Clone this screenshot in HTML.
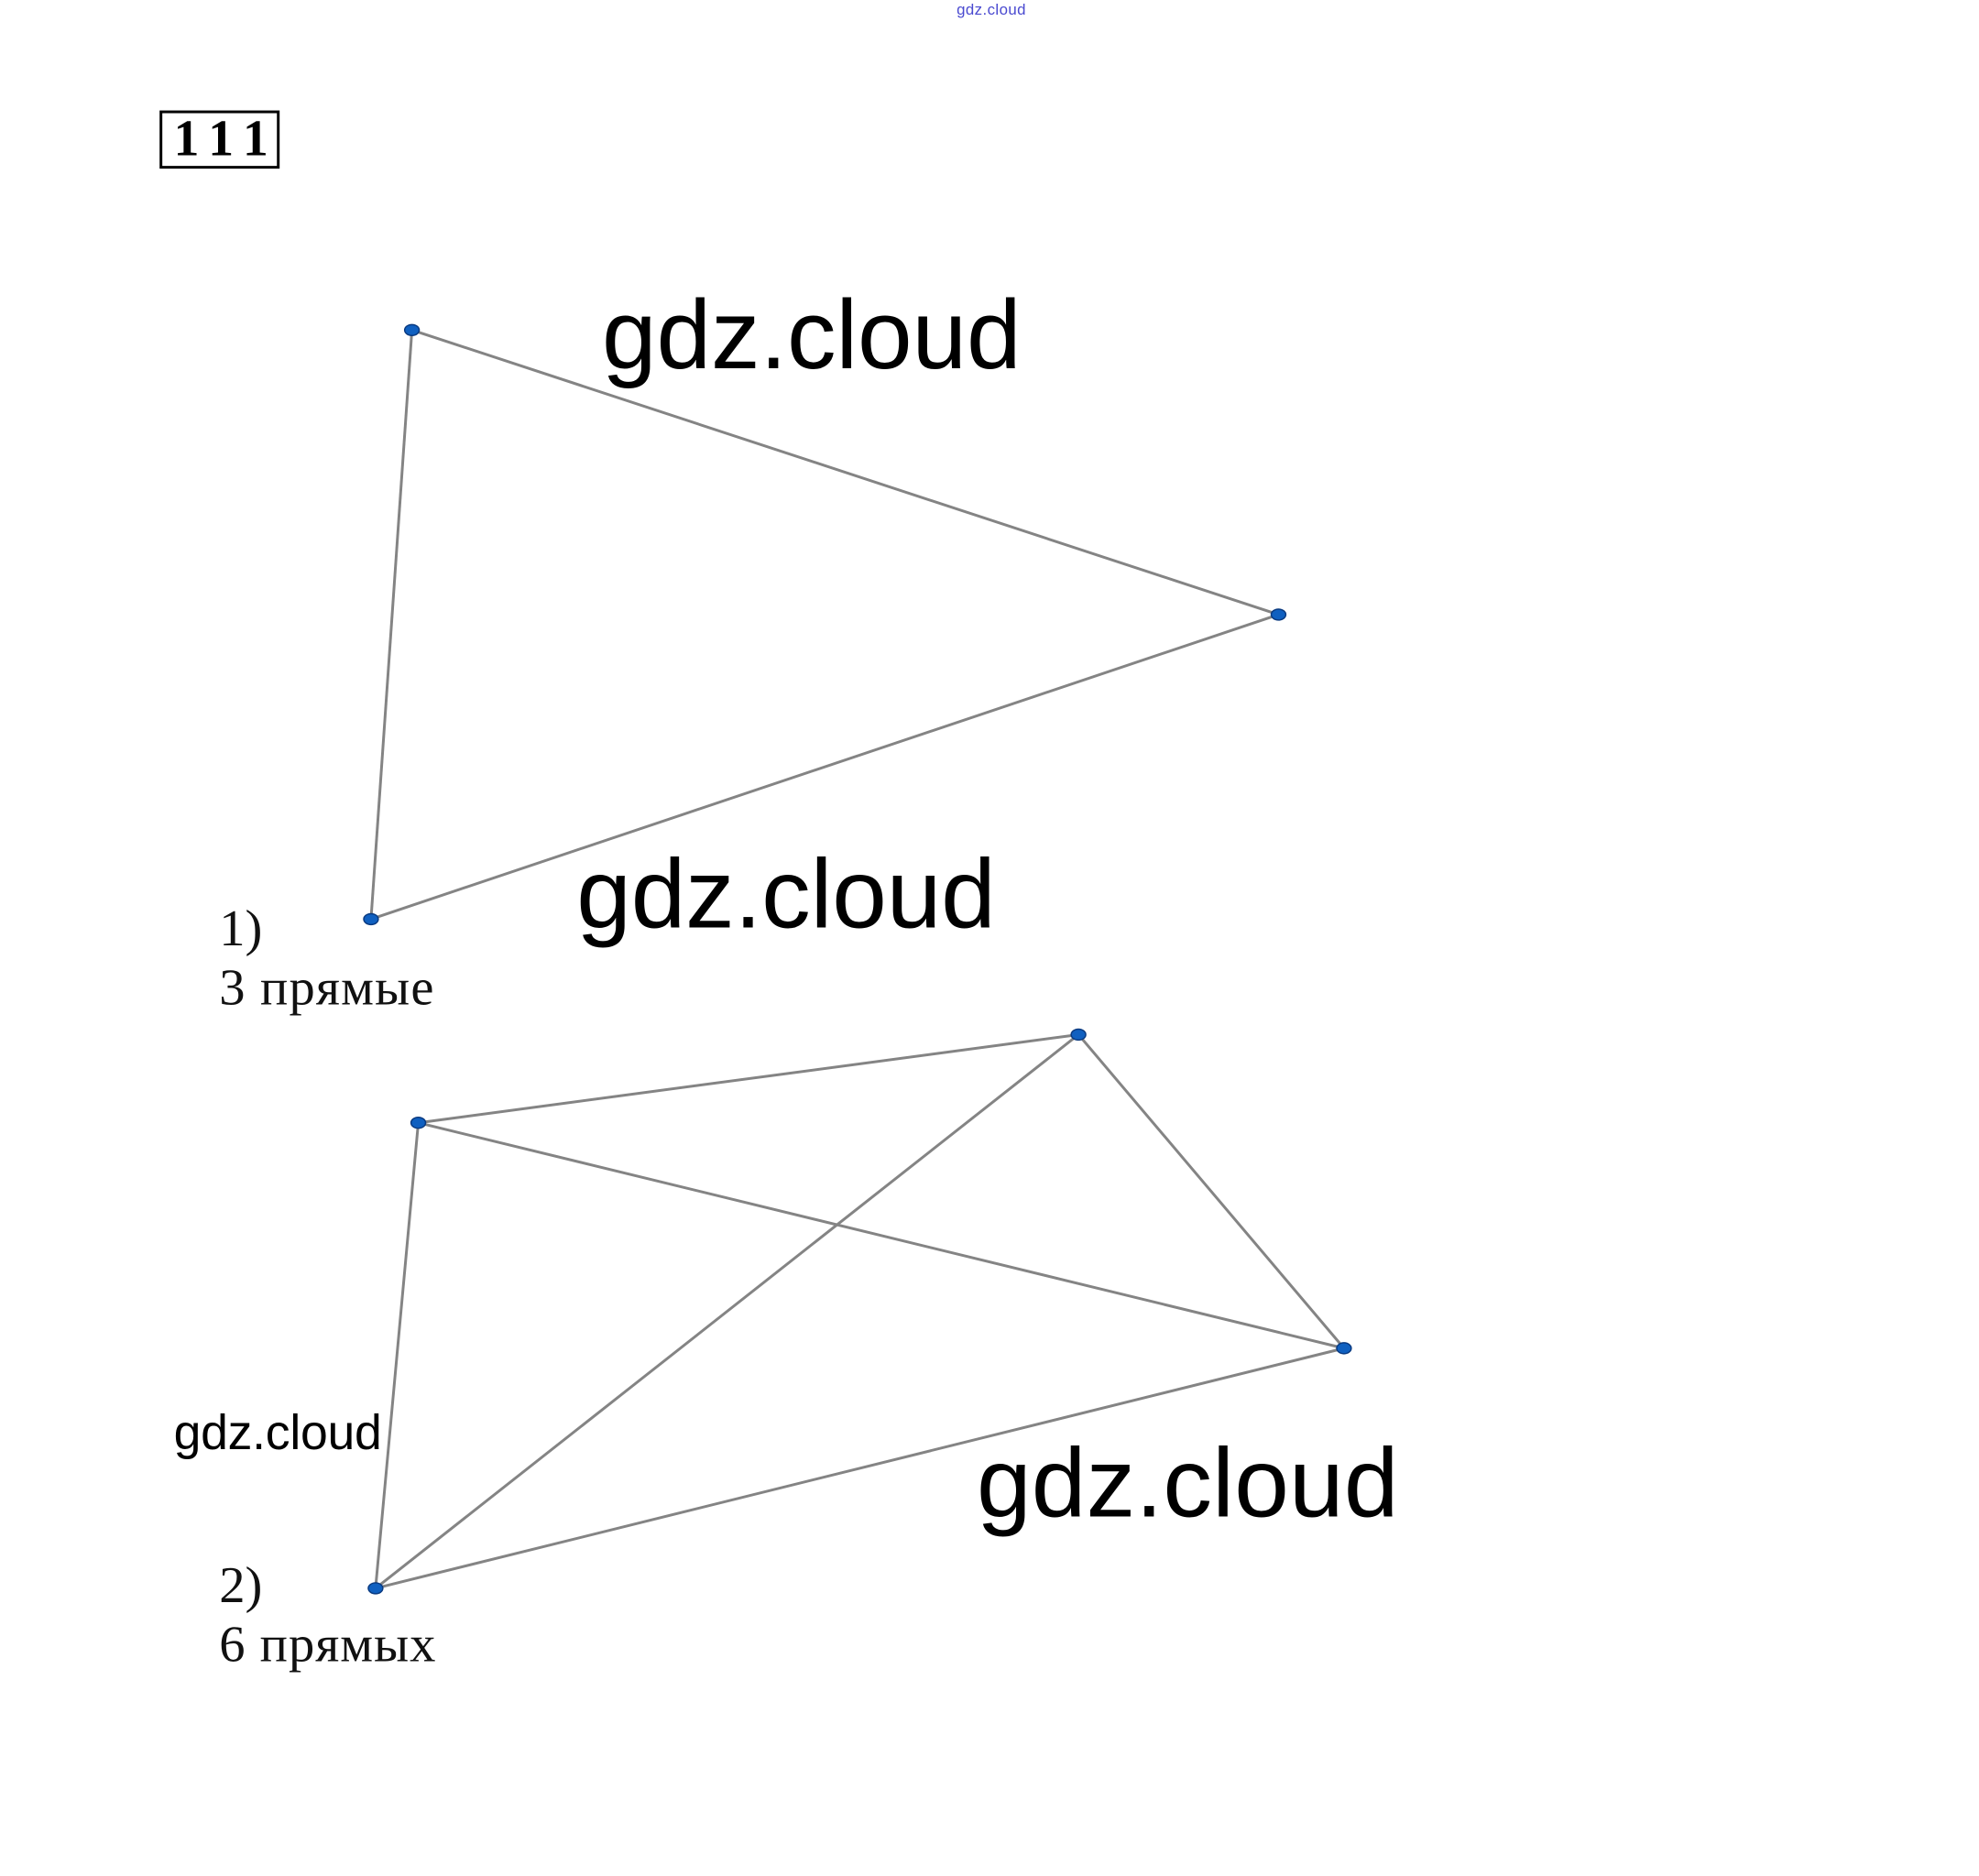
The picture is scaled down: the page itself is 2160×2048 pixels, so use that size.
<!DOCTYPE html>
<html><head><meta charset="utf-8"><style>
html,body{margin:0;padding:0;background:#fff;}
svg{display:block;}
</style></head><body>
<svg width="2160" height="2048" viewBox="0 0 2160 2048" xmlns="http://www.w3.org/2000/svg">
<rect width="2160" height="2048" fill="#fff"/>
<g transform="scale(0.9925)">
<text x="1052" y="16" font-family="Liberation Sans, sans-serif" font-size="17" fill="#4a4ad0" textLength="76">gdz.cloud</text>
<rect x="177" y="123" width="129" height="61" fill="none" stroke="#000" stroke-width="3"/>
<text x="191" y="171" font-family="Liberation Serif, serif" font-weight="bold" font-size="56" textLength="104" lengthAdjust="spacing">111</text>

<g stroke="#848484" stroke-width="3" fill="none">
<line x1="453" y1="363" x2="1406" y2="676"/>
<line x1="1406" y1="676" x2="408" y2="1011"/>
<line x1="453" y1="363" x2="408" y2="1011"/>
<line x1="460" y1="1235" x2="1186" y2="1138"/>
<line x1="460" y1="1235" x2="1478" y2="1483"/>
<line x1="460" y1="1235" x2="413" y2="1747"/>
<line x1="1186" y1="1138" x2="413" y2="1747"/>
<line x1="1186" y1="1138" x2="1478" y2="1483"/>
<line x1="1478" y1="1483" x2="413" y2="1747"/>
</g>
<g fill="#1060c0" stroke="#0a3a80" stroke-width="1.5">
<ellipse cx="453" cy="363" rx="8" ry="6"/>
<ellipse cx="1406" cy="676" rx="8" ry="6"/>
<ellipse cx="408" cy="1011" rx="8" ry="6"/>
<ellipse cx="460" cy="1235" rx="8" ry="6"/>
<ellipse cx="1186" cy="1138" rx="8" ry="6"/>
<ellipse cx="1478" cy="1483" rx="8" ry="6"/>
<ellipse cx="413" cy="1747" rx="8" ry="6"/>
</g>

<g font-family="Liberation Sans, sans-serif" fill="#000">
<text x="662" y="405" font-size="108" textLength="461">gdz.cloud</text>
<text x="634" y="1020" font-size="108" textLength="461">gdz.cloud</text>
<text x="1074" y="1668" font-size="108" textLength="464">gdz.cloud</text>
<text x="191" y="1594" font-size="54" textLength="229">gdz.cloud</text>
</g>
<g font-family="Liberation Serif, serif" fill="#111" font-size="57">
<text x="241" y="1040">1)</text>
<text x="241" y="1105" textLength="236">3 прямые</text>
<text x="241" y="1762">2)</text>
<text x="241" y="1827" textLength="238">6 прямых</text>
</g>
</g>
</svg>
</body></html>
